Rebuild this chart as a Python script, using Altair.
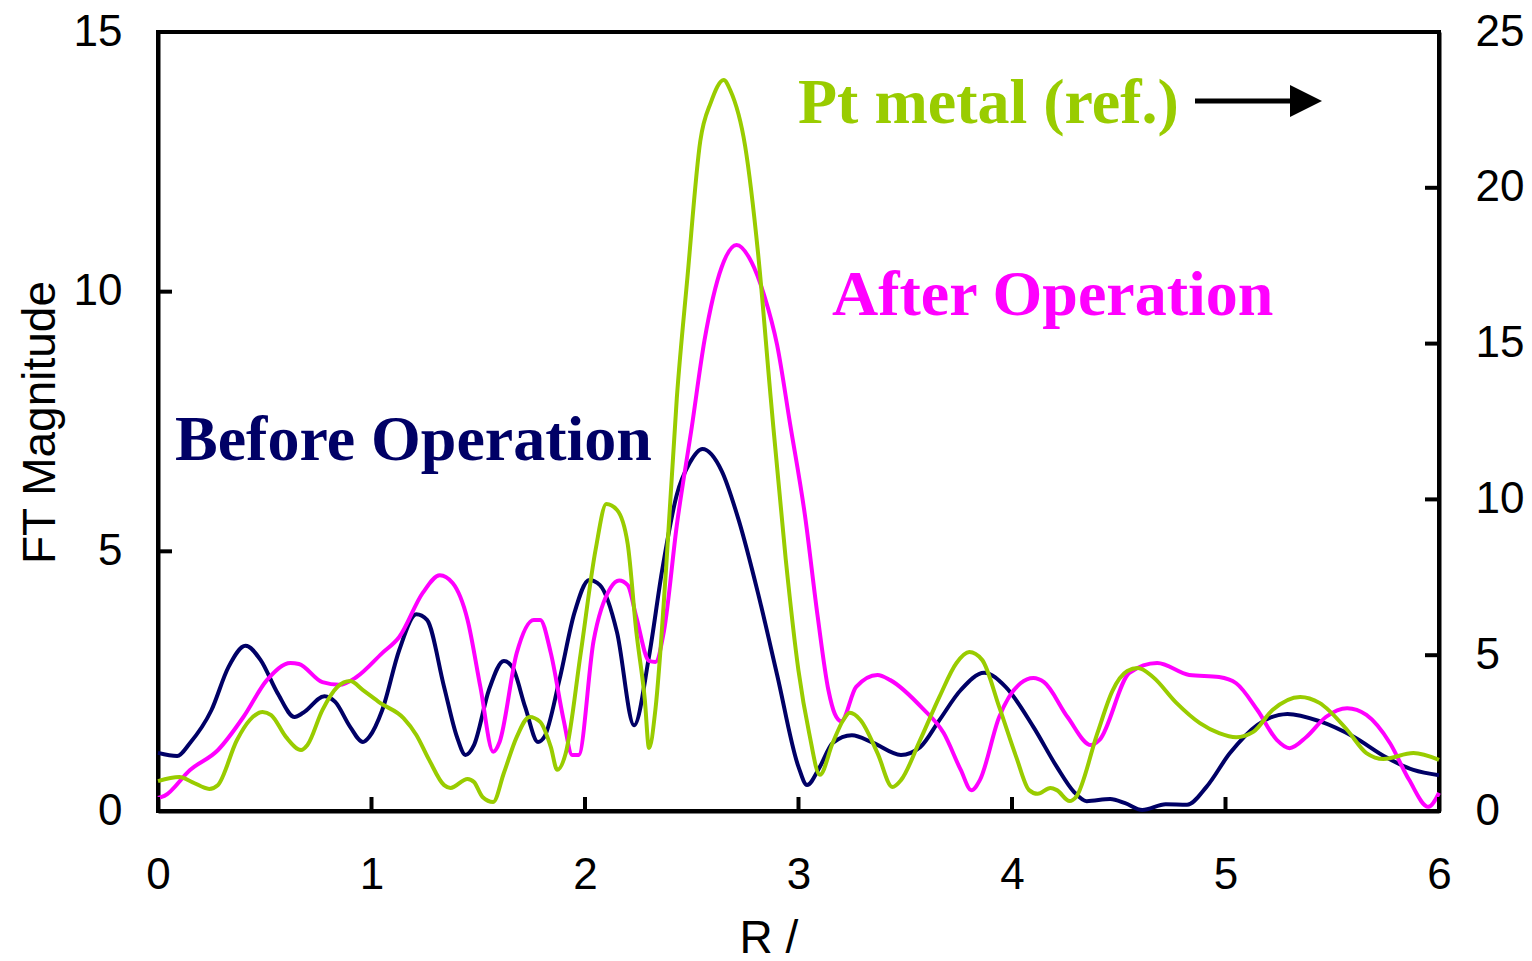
import altair as alt
import pandas as pd

# ---- data ----
r_before = [0.00,0.09,0.15,0.25,0.33,0.41,0.48,0.56,0.64,0.68,0.78,0.83,0.90,0.96,0.99,1.05,1.13,1.21,1.26,1.34,
            1.40,1.44,1.48,1.55,1.62,1.66,1.72,1.78,1.81,1.88,1.95,2.02,2.07,2.15,2.23,2.30,2.36,2.43,2.49,2.55,
            2.64,2.72,2.81,2.90,3.00,3.04,3.10,3.16,3.25,3.35,3.48,3.57,3.66,3.76,3.87,3.97,4.10,4.21,4.29,4.35,
            4.46,4.53,4.61,4.72,4.82,4.91,5.02,5.15,5.29,5.44,5.60,5.75,5.88,6.00]
v_before = [1.12,1.06,1.31,1.94,2.77,3.18,2.91,2.27,1.81,1.89,2.21,2.10,1.62,1.33,1.43,1.94,3.10,3.79,3.68,2.39,
            1.43,1.08,1.27,2.33,2.89,2.77,2.00,1.33,1.43,2.52,3.81,4.45,4.35,3.44,1.65,2.98,4.60,6.09,6.70,6.97,
            6.55,5.60,4.20,2.62,0.85,0.50,0.85,1.31,1.46,1.31,1.08,1.23,1.75,2.33,2.66,2.39,1.62,0.85,0.37,0.19,
            0.23,0.15,0.02,0.13,0.12,0.46,1.11,1.66,1.87,1.73,1.43,1.04,0.79,0.69]

r_after = [0.00,0.03,0.15,0.28,0.40,0.51,0.62,0.66,0.77,0.85,0.93,1.05,1.13,1.24,1.32,1.38,1.45,1.51,1.57,1.60,
           1.68,1.76,1.79,1.84,1.90,1.94,1.97,2.04,2.12,2.16,2.20,2.24,2.30,2.33,2.37,2.43,2.50,2.56,2.64,2.71,
           2.78,2.84,2.90,2.96,3.03,3.09,3.14,3.17,3.20,3.27,3.37,3.43,3.58,3.68,3.76,3.81,3.85,3.94,4.04,4.10,
           4.15,4.26,4.37,4.41,4.55,4.68,4.83,4.97,5.05,5.15,5.24,5.30,5.38,5.47,5.57,5.66,5.77,5.86,5.95,6.00]
v_after = [0.25,0.29,0.79,1.17,1.81,2.52,2.85,2.83,2.48,2.43,2.58,3.04,3.35,4.20,4.54,4.39,3.68,2.39,1.14,1.33,
           3.04,3.68,3.68,3.04,1.75,1.08,1.08,3.27,4.30,4.44,4.35,3.74,2.89,2.87,3.47,5.50,7.39,9.07,10.47,10.90,
           10.57,9.92,8.97,7.47,5.70,3.74,2.33,1.87,1.73,2.39,2.62,2.52,1.98,1.50,0.79,0.40,0.60,1.81,2.46,2.56,
           2.48,1.81,1.27,1.37,2.66,2.85,2.62,2.58,2.46,1.94,1.37,1.21,1.43,1.81,1.98,1.85,1.31,0.60,0.08,0.35]

r_pt = [0.00,0.10,0.16,0.24,0.28,0.37,0.43,0.49,0.53,0.60,0.67,0.70,0.77,0.84,0.90,0.96,1.04,1.15,1.21,1.27,
        1.34,1.37,1.45,1.48,1.52,1.57,1.62,1.68,1.74,1.79,1.84,1.87,1.91,1.98,2.05,2.10,2.15,2.20,2.24,2.28,
        2.30,2.33,2.38,2.43,2.48,2.54,2.59,2.65,2.68,2.75,2.81,2.87,2.94,3.00,3.05,3.10,3.16,3.21,3.24,3.29,
        3.37,3.44,3.48,3.57,3.66,3.74,3.80,3.86,3.94,4.02,4.08,4.12,4.18,4.21,4.27,4.30,4.40,4.47,4.54,4.59,
        4.66,4.77,4.88,4.97,5.05,5.13,5.22,5.35,5.44,5.57,5.66,5.74,5.88,6.00]
v_pt = [0.96,1.09,0.93,0.71,0.83,2.28,2.92,3.18,3.08,2.37,1.96,2.12,3.24,3.98,4.17,3.88,3.47,2.98,2.44,1.64,
        0.83,0.74,1.03,0.93,0.45,0.29,1.22,2.37,3.02,2.86,2.05,1.32,1.86,5.07,8.40,9.85,9.66,8.57,5.78,3.59,
        2.02,3.27,7.80,13.25,17.14,21.50,22.75,23.46,23.14,21.34,17.94,13.25,8.09,4.50,2.50,1.16,2.18,2.92,3.15,2.92,
        1.86,0.77,0.99,2.28,3.66,4.75,5.10,4.85,3.34,1.73,0.67,0.55,0.74,0.67,0.32,0.45,2.50,3.85,4.49,4.59,
        4.30,3.47,2.82,2.50,2.37,2.54,3.24,3.66,3.47,2.60,1.86,1.67,1.86,1.64]

x_ticks = [0, 1, 2, 3, 4, 5, 6]
left_ticks = [0, 5, 10, 15]
right_ticks = [0, 5, 10, 15, 20, 25]

# ---- layout constants ----
W, H = 1281, 779
FONT = "Liberation Sans"
SERIF = "Liberation Serif"
NAVY, MAGENTA, GREEN = "#000066", "#FF00FF", "#99CC00"
LABEL_SIZE = 44

df_b = pd.DataFrame({"R": r_before, "v": v_before})
df_a = pd.DataFrame({"R": r_after, "v": v_after})
df_p = pd.DataFrame({"R": r_pt, "v": v_pt})
df_xt = pd.DataFrame({"R": x_ticks})
df_lt = pd.DataFrame({"t": left_ticks})
df_rt = pd.DataFrame({"t": right_ticks})
one = pd.DataFrame({"a": [0]})

xscale = alt.Scale(domain=[0, 6], nice=False, zero=False)
lscale = alt.Scale(domain=[0, 15], nice=False)
rscale = alt.Scale(domain=[0, 25], nice=False)

x_axis = alt.Axis(values=x_ticks, title="R / ", grid=False, ticks=False, tickSize=0,
                  labelFont=FONT, labelFontSize=LABEL_SIZE, labelColor="black", labelPadding=42,
                  labelFlush=False, labelOverlap=False,
                  domainColor="black", domainWidth=4,
                  titleFont=FONT, titleFontSize=46, titleFontWeight="normal", titleColor="black",
                  titleX=581, titleY=141, titleAlign="left", titleBaseline="alphabetic")
left_axis = alt.Axis(values=left_ticks, title="FT Magnitude", grid=False, ticks=False, tickSize=0,
                     labelFont=FONT, labelFontSize=LABEL_SIZE, labelColor="black", labelPadding=36,
                     labelOverlap=False, domainColor="black", domainWidth=4,
                     titleFont=FONT, titleFontSize=46, titleFontWeight="normal", titleColor="black",
                     titleAngle=270, titleX=-104, titleY=390, titleAlign="center",
                     titleBaseline="alphabetic")
right_axis = alt.Axis(values=right_ticks, title=None, orient="right", grid=False, ticks=False,
                      tickSize=0, labelFont=FONT, labelFontSize=LABEL_SIZE, labelColor="black",
                      labelPadding=36, labelOverlap=False, domainColor="black", domainWidth=4)

X = alt.X("R:Q", scale=xscale, axis=x_axis)

before = alt.Chart(df_b).mark_line(color=NAVY, strokeWidth=4, interpolate="monotone").encode(
    x=X, y=alt.Y("v:Q", scale=lscale, axis=left_axis),
)
after = alt.Chart(df_a).mark_line(color=MAGENTA, strokeWidth=4, interpolate="monotone").encode(
    x=X, y=alt.Y("v:Q", scale=lscale, axis=None),
)
pt = alt.Chart(df_p).mark_line(color=GREEN, strokeWidth=4, interpolate="monotone").encode(
    x=X, y=alt.Y("v:Q", scale=rscale, axis=right_axis),
)

xt = alt.Chart(df_xt).mark_rule(color="black", strokeWidth=4).encode(
    x=X, y=alt.value(H - 14), y2=alt.value(H))
lt = alt.Chart(df_lt).mark_rule(color="black", strokeWidth=4).encode(
    y=alt.Y("t:Q", scale=lscale, axis=None), x=alt.value(0), x2=alt.value(14))
rt = alt.Chart(df_rt).mark_rule(color="black", strokeWidth=4).encode(
    y=alt.Y("t:Q", scale=rscale, axis=None), x=alt.value(W - 14), x2=alt.value(W))

def label(text, color, x, y):
    return alt.Chart(one).mark_text(text=text, font=SERIF, fontWeight="bold", fontSize=64,
                                    color=color, align="left", baseline="alphabetic").encode(
        x=alt.value(x), y=alt.value(y))

t_before = label("Before Operation", NAVY, 17, 428)
t_after = label("After Operation", MAGENTA, 674, 283)
t_pt = label("Pt metal (ref.)", GREEN, 640, 91)

shaft = alt.Chart(one).mark_rule(color="black", strokeWidth=5).encode(
    x=alt.value(1037), x2=alt.value(1137), y=alt.value(69))
head = alt.Chart(one).mark_point(shape="M-1,-1L1,0L-1,1Z", filled=True, size=1024,
                                 color="black", opacity=1).encode(
    x=alt.value(1148), y=alt.value(69))

chart = alt.layer(
    before, after, pt, xt, lt, rt, t_before, t_after, t_pt, shaft, head
).resolve_scale(y="independent").properties(
    width=W, height=H,
    autosize=alt.AutoSizeParams(type="none"),
    padding={"left": 150, "top": 24, "right": 85, "bottom": 150},
    background="white",
).configure_view(stroke="black", strokeWidth=4)

chart.save("out.html", embed_options={"renderer": "svg", "actions": False})
